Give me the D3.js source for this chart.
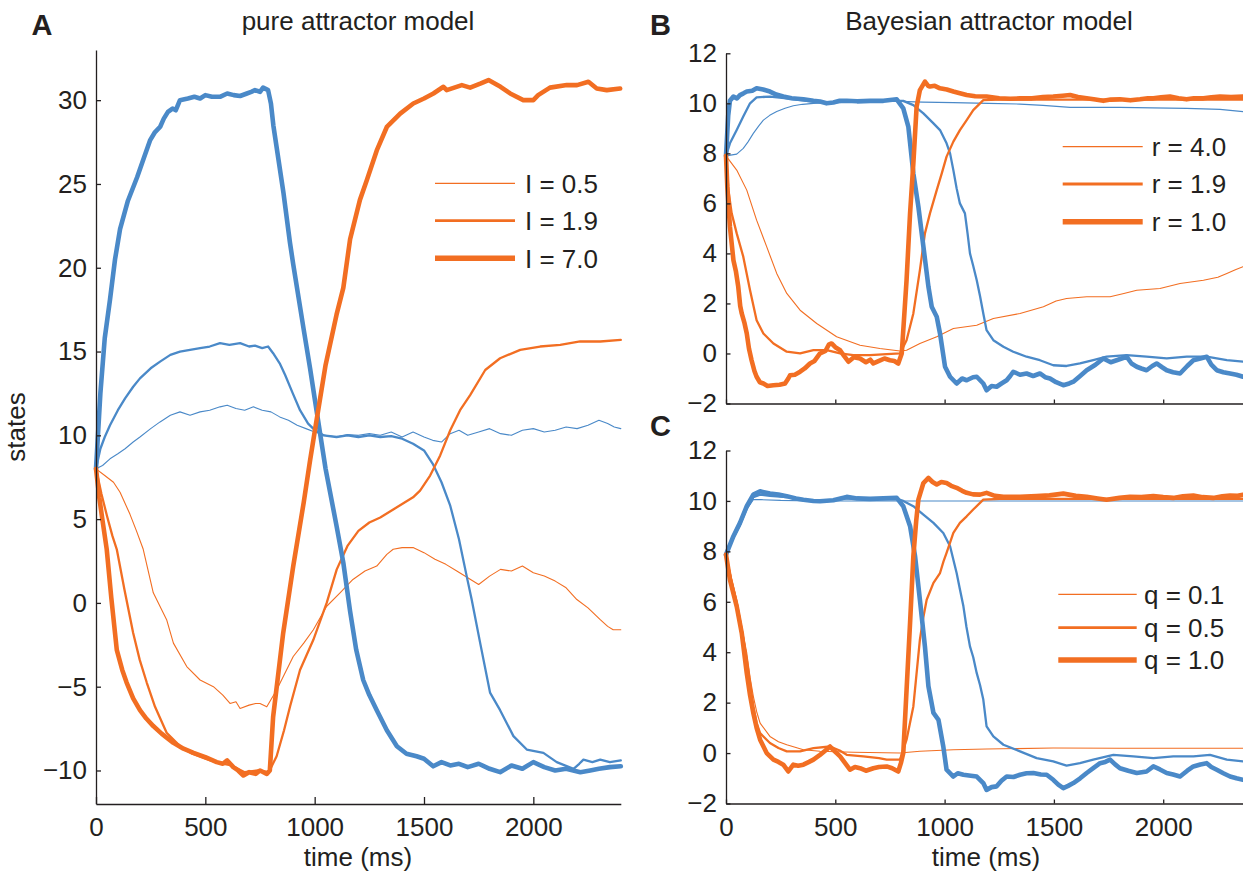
<!DOCTYPE html>
<html><head><meta charset="utf-8">
<script src="https://cdn.jsdelivr.net/npm/d3@7"></script>
<style>
body{margin:0;background:#fff}
text{font-family:"Liberation Sans",Arial,Helvetica,sans-serif;fill:#231f20}
</style>
</head><body>
<svg id="c" width="1243" height="875"></svg>
<script>
// ---------- tick values & labels ----------
const timeTicks = [0, 500, 1000, 1500, 2000];
const yTicksA = [-10, -5, 0, 5, 10, 15, 20, 25, 30];
const yTicksBC = [-2, 0, 2, 4, 6, 8, 10, 12];
const legendA = ["I = 0.5", "I = 1.9", "I = 7.0"];
const legendB = ["r = 4.0", "r = 1.9", "r = 1.0"];
const legendC = ["q = 0.1", "q = 0.5", "q = 1.0"];
const titles = ["pure attractor model", "Bayesian attractor model"];

// ---------- Panel A: pure attractor model  [time ms, state] ----------
const aBlueThin = [[0,8],[30,8.2],[64,8.6],[100,8.9],[133,9.2],[170,9.6],[201,9.9],[250,10.4],[293,10.8],[340,11.2],[384,11.4],[430,11.2],[476,11.4],[520,11.5],[567,11.7],[600,11.8],[640,11.6],[680,11.5],[720,11.7],[760,11.5],[800,11.4],[840,11.1],[880,10.9],[920,10.6],[960,10.4],[1000,10.2],[1050,10.0],[1100,9.9],[1150,10.05],[1200,10.0],[1250,10.1],[1300,10.0],[1350,10.2],[1400,9.9],[1450,10.2],[1500,9.9],[1540,9.7],[1580,9.6],[1620,10.1],[1660,10.3],[1700,10.0],[1750,10.2],[1800,10.4],[1850,10.1],[1900,10.0],[1950,10.3],[2000,10.4],[2050,10.2],[2100,10.3],[2150,10.5],[2200,10.4],[2250,10.6],[2300,10.9],[2340,10.7],[2370,10.5],[2400,10.4]];
const aBlueMed = [[0,8],[20,9.2],[40,9.9],[64,10.6],[100,11.5],[133,12.2],[170,12.9],[201,13.4],[250,14.0],[293,14.4],[340,14.8],[384,15.0],[430,15.1],[476,15.2],[520,15.3],[567,15.5],[610,15.4],[659,15.5],[700,15.3],[727,15.35],[760,15.2],[787,15.3],[810,14.9],[840,14.3],[865,13.6],[900,12.5],[933,11.5],[970,10.7],[1002,10.3],[1040,10.0],[1100,9.9],[1150,10.0],[1200,9.9],[1250,10.0],[1300,9.9],[1350,9.95],[1400,9.8],[1450,9.5],[1500,9.1],[1540,8.3],[1580,7.2],[1620,5.8],[1660,3.8],[1700,1.3],[1718,0.2],[1757,-2.4],[1802,-5.35],[1848,-6.4],[1909,-7.95],[1970,-8.75],[2046,-8.95],[2107,-9.5],[2184,-9.9],[2210,-9.6],[2229,-9.35],[2270,-9.5],[2306,-9.35],[2350,-9.5],[2400,-9.4]];
const aBlueThick = [[0,8],[20,12.5],[40,15.8],[64,18.1],[87,20.5],[110,22.3],[146,24],[188,25.4],[220,26.6],[247,27.6],[270,28.1],[293,28.4],[310,28.9],[329,29.3],[350,29.5],[365,29.4],[384,30.0],[420,30.1],[450,30.2],[476,30.1],[500,30.3],[530,30.2],[567,30.2],[600,30.4],[630,30.3],[659,30.25],[690,30.4],[710,30.5],[727,30.6],[750,30.5],[764,30.75],[787,30.6],[800,29.8],[811,28.5],[857,24.5],[887,21.5],[902,20.2],[950,16.3],[979,14],[1000,12.2],[1050,8.0],[1100,4.6],[1131,2.4],[1162,-0.5],[1190,-2.8],[1222,-4.6],[1250,-5.5],[1284,-6.4],[1330,-7.6],[1376,-8.55],[1420,-9.0],[1466,-9.15],[1500,-9.3],[1542,-9.75],[1580,-9.5],[1620,-9.7],[1660,-9.6],[1700,-9.8],[1750,-9.6],[1800,-9.9],[1848,-10.1],[1900,-9.7],[1950,-9.9],[2000,-9.5],[2050,-9.8],[2100,-10.0],[2150,-9.9],[2215,-10.1],[2260,-10.0],[2300,-9.9],[2350,-9.8],[2400,-9.75]];
const aOrangeThin = [[0,8],[40,7.6],[80,7.2],[110,6.6],[155,5.3],[185,4.3],[216,3.2],[262,0.6],[323,-1.0],[354,-2.4],[415,-3.8],[476,-4.6],[537,-5.0],[580,-5.5],[613,-6.0],[640,-5.9],[659,-6.3],[700,-6.1],[730,-6.0],[750,-6.0],[781,-6.2],[826,-5.2],[860,-4.3],[902,-3.2],[950,-2.4],[994,-1.6],[1055,-0.2],[1116,0.6],[1175,1.4],[1230,1.9],[1284,2.2],[1330,2.9],[1359,3.2],[1400,3.3],[1450,3.3],[1500,3.0],[1550,2.6],[1600,2.3],[1650,1.9],[1700,1.5],[1750,1.1],[1800,1.6],[1850,2.0],[1900,1.9],[1950,2.2],[2000,1.8],[2050,1.6],[2100,1.3],[2150,0.9],[2199,0.2],[2250,-0.3],[2306,-1.0],[2340,-1.4],[2365,-1.6],[2400,-1.6]];
const aOrangeMed = [[0,8],[25,6.5],[50,5.2],[75,4.0],[95,3.2],[130,0.8],[170,-1.8],[200,-3.4],[232,-4.75],[270,-6.2],[323,-7.75],[384,-8.55],[440,-9.0],[500,-9.3],[560,-9.55],[620,-9.7],[680,-10.1],[740,-10.0],[790,-10.1],[826,-9.15],[860,-7.6],[888,-6.15],[933,-4.0],[994,-2.2],[1055,0],[1101,2.0],[1150,3.4],[1200,4.3],[1250,4.8],[1300,5.1],[1350,5.5],[1400,5.9],[1450,6.3],[1482,6.7],[1528,7.6],[1574,8.8],[1620,10.3],[1665,11.5],[1711,12.4],[1780,13.9],[1848,14.6],[1940,15.1],[2031,15.3],[2123,15.4],[2214,15.6],[2306,15.6],[2400,15.7]];
const aOrangeThick = [[0,8],[15,6.3],[30,4.9],[49,3.2],[70,0.3],[95,-2.8],[120,-4.0],[140,-4.75],[170,-5.7],[201,-6.4],[230,-6.9],[262,-7.35],[300,-7.8],[354,-8.35],[400,-8.7],[446,-8.95],[500,-9.2],[552,-9.5],[580,-9.6],[600,-9.4],[628,-9.8],[650,-10.0],[674,-10.3],[700,-10.1],[730,-10.2],[750,-10.0],[781,-10.2],[795,-10.0],[810,-6.8],[856,-1.8],[902,2.2],[950,6.0],[979,8.5],[1000,10.2],[1050,14.2],[1100,17.2],[1131,18.8],[1162,21.7],[1207,24.05],[1238,25.2],[1284,27.0],[1330,28.4],[1391,29.2],[1451,29.8],[1500,30.1],[1543,30.4],[1589,30.8],[1604,30.6],[1673,30.9],[1711,30.75],[1760,31.0],[1795,31.2],[1850,30.8],[1894,30.4],[1954,30.0],[2000,30.0],[2022,30.3],[2076,30.75],[2153,30.9],[2200,30.9],[2252,31.1],[2290,30.7],[2336,30.6],[2397,30.7]];

// ---------- Panel B: Bayesian attractor model, varying r ----------
const bBlueThin = [[0,7.9],[49,7.97],[79,8.2],[100,8.45],[125,8.8],[150,9.1],[171,9.33],[200,9.52],[232,9.67],[270,9.8],[308,9.9],[350,9.96],[400,10.0],[490,10.04],[582,10.07],[700,10.08],[796,10.08],[900,10.05],[1040,10.03],[1200,10.0],[1345,9.97],[1450,9.92],[1574,9.84],[1700,9.84],[1802,9.84],[1950,9.82],[2107,9.8],[2260,9.76],[2365,9.67]];
const bBlueMed = [[0,7.9],[18,8.4],[49,8.93],[79,9.47],[110,10.0],[140,10.24],[201,10.27],[278,10.2],[369,10.1],[430,10.05],[491,10.03],[552,10.08],[650,10.08],[750,10.1],[811,10.1],[857,9.93],[903,9.6],[949,9.2],[979,8.93],[1009,8.4],[1025,8.0],[1040,7.33],[1055,6.6],[1070,6.0],[1093,5.6],[1105,4.8],[1116,4.0],[1131,3.5],[1147,2.93],[1162,2.3],[1177,1.6],[1192,0.93],[1223,0.53],[1269,0.27],[1314,0.07],[1375,-0.13],[1436,-0.27],[1497,-0.47],[1558,-0.5],[1619,-0.4],[1680,-0.27],[1741,-0.13],[1833,-0.07],[1924,-0.13],[2016,-0.2],[2108,-0.13],[2199,-0.13],[2291,-0.27],[2365,-0.33]];
const bBlueThick = [[0,7.9],[10,9.5],[18,10.1],[34,10.27],[50,10.2],[64,10.33],[80,10.4],[95,10.47],[120,10.5],[140,10.6],[170,10.55],[201,10.47],[230,10.35],[262,10.27],[300,10.2],[354,10.16],[400,10.1],[430,10.07],[460,10.0],[491,10.03],[520,10.1],[552,10.1],[600,10.08],[659,10.1],[720,10.1],[781,10.16],[811,9.8],[834,9.07],[857,7.2],[880,5.87],[903,4.27],[926,2.67],[941,1.87],[964,1.47],[979,0.8],[1002,-0.53],[1025,-0.93],[1055,-1.2],[1080,-1.0],[1101,-1.07],[1130,-0.95],[1147,-0.93],[1177,-1.2],[1192,-1.47],[1215,-1.3],[1238,-1.33],[1260,-1.2],[1284,-1.07],[1300,-0.9],[1314,-0.73],[1345,-0.85],[1375,-0.8],[1405,-0.9],[1436,-0.8],[1460,-0.95],[1482,-1.0],[1510,-1.15],[1543,-1.27],[1570,-1.2],[1589,-1.13],[1620,-0.9],[1650,-0.67],[1690,-0.45],[1726,-0.2],[1760,-0.35],[1787,-0.27],[1810,-0.2],[1833,-0.13],[1855,-0.4],[1879,-0.53],[1900,-0.6],[1924,-0.67],[1950,-0.5],[1970,-0.4],[1995,-0.55],[2016,-0.67],[2045,-0.75],[2077,-0.8],[2110,-0.5],[2138,-0.27],[2170,-0.2],[2199,-0.13],[2220,-0.45],[2245,-0.67],[2275,-0.75],[2306,-0.8],[2335,-0.85],[2365,-0.93]];
const bOrangeThin = [[0,7.9],[49,7.33],[95,6.53],[140,5.33],[186,4.27],[232,3.2],[278,2.4],[339,1.73],[415,1.2],[506,0.67],[613,0.33],[704,0.2],[796,0.1],[826,0.13],[887,0.4],[964,0.67],[1040,1.0],[1147,1.13],[1223,1.4],[1345,1.6],[1452,1.87],[1510,2.1],[1558,2.2],[1650,2.27],[1757,2.27],[1820,2.4],[1879,2.53],[1985,2.6],[2077,2.8],[2184,2.93],[2250,3.05],[2291,3.2],[2330,3.35],[2365,3.47]];
const bOrangeMed = [[0,7.9],[11,6.53],[26,5.6],[49,4.8],[79,3.87],[110,2.53],[140,1.33],[171,0.8],[217,0.4],[278,0.07],[339,0.0],[400,0.13],[461,0.13],[522,0.0],[582,-0.07],[659,-0.07],[735,-0.03],[796,0.0],[826,0.53],[857,1.6],[887,3.33],[910,4.8],[933,5.6],[964,6.53],[987,7.2],[1009,7.87],[1040,8.47],[1070,8.93],[1101,9.33],[1131,9.73],[1177,10.13],[1250,10.15],[1400,10.15],[1600,10.15],[1800,10.15],[2000,10.15],[2200,10.15],[2365,10.15]];
const bOrangeThick = [[0,7.9],[6,6.67],[18,5.07],[34,3.73],[45,3.3],[56,2.67],[65,1.9],[72,1.6],[85,1.2],[95,0.8],[105,0.2],[117,-0.27],[130,-0.7],[140,-0.93],[155,-1.15],[171,-1.2],[190,-1.3],[217,-1.27],[245,-1.25],[270,-1.2],[285,-1.0],[293,-0.87],[315,-0.85],[339,-0.73],[360,-0.6],[384,-0.4],[405,-0.3],[430,0.0],[455,0.1],[470,0.35],[483,0.4],[500,0.25],[522,0.13],[540,-0.1],[560,-0.33],[585,-0.15],[613,-0.2],[640,-0.35],[660,-0.25],[674,-0.4],[700,-0.3],[725,-0.2],[750,-0.27],[770,-0.3],[788,-0.4],[804,0.0],[826,2.93],[842,5.6],[857,7.6],[872,9.87],[887,10.53],[910,10.87],[925,10.7],[933,10.67],[955,10.7],[979,10.6],[1010,10.55],[1040,10.47],[1070,10.4],[1101,10.33],[1140,10.28],[1192,10.27],[1250,10.2],[1300,10.18],[1345,10.2],[1400,10.2],[1450,10.25],[1497,10.27],[1540,10.3],[1574,10.33],[1610,10.25],[1650,10.2],[1690,10.15],[1726,10.1],[1760,10.15],[1802,10.16],[1850,10.12],[1894,10.16],[1930,10.2],[1955,10.2],[1990,10.24],[2031,10.27],[2070,10.2],[2107,10.16],[2140,10.2],[2184,10.2],[2220,10.24],[2260,10.27],[2310,10.25],[2365,10.27]];

// ---------- Panel C: Bayesian attractor model, varying q ----------
const cBlueThin = [[0,7.87],[49,8.86],[95,9.66],[125,10.05],[160,10.05],[250,10.02],[400,10.0],[800,10.0],[1200,10.0],[1800,10.0],[2365,10.0]];
const cBlueMed = [[0,7.87],[34,8.55],[64,9.05],[95,9.7],[125,10.15],[156,10.25],[201,10.2],[278,10.15],[354,10.03],[430,9.98],[491,10.02],[552,10.1],[659,10.06],[781,10.08],[811,10.0],[857,9.79],[903,9.46],[949,9.13],[994,8.73],[1025,8.2],[1055,7.14],[1070,6.5],[1086,5.82],[1100,5.0],[1116,4.23],[1131,3.8],[1147,3.17],[1162,2.7],[1177,2.12],[1192,1.06],[1223,0.66],[1269,0.33],[1345,0.07],[1421,-0.2],[1497,-0.33],[1558,-0.5],[1619,-0.4],[1680,-0.26],[1772,-0.07],[1863,-0.13],[1955,-0.2],[2046,-0.13],[2138,-0.13],[2214,-0.07],[2291,-0.26],[2365,-0.33]];
const cBlueThick = [[0,7.87],[34,8.6],[64,9.13],[95,9.79],[125,10.25],[156,10.38],[201,10.29],[240,10.25],[278,10.19],[320,10.1],[354,10.05],[400,10.0],[430,9.99],[491,10.03],[552,10.16],[600,10.1],[659,10.08],[720,10.1],[781,10.12],[811,9.79],[842,9.0],[865,7.8],[887,6.08],[910,4.23],[926,2.65],[949,1.59],[972,1.32],[994,0.26],[1009,-0.66],[1040,-0.93],[1060,-0.8],[1086,-0.86],[1120,-0.9],[1147,-0.93],[1177,-1.19],[1192,-1.46],[1215,-1.35],[1238,-1.32],[1260,-1.1],[1284,-0.93],[1315,-0.95],[1345,-0.86],[1375,-0.8],[1406,-0.79],[1440,-0.85],[1467,-0.86],[1497,-1.06],[1520,-1.25],[1543,-1.39],[1565,-1.3],[1589,-1.19],[1620,-1.0],[1650,-0.79],[1680,-0.6],[1711,-0.4],[1735,-0.35],[1757,-0.26],[1780,-0.45],[1802,-0.6],[1840,-0.7],[1879,-0.79],[1924,-0.73],[1955,-0.53],[1985,-0.65],[2016,-0.79],[2045,-0.85],[2077,-0.93],[2110,-0.7],[2138,-0.53],[2170,-0.45],[2199,-0.4],[2220,-0.55],[2245,-0.66],[2275,-0.8],[2306,-0.93],[2335,-1.0],[2365,-1.06]];
const cOrangeThin = [[0,7.87],[49,6.08],[72,5.0],[95,3.97],[110,3.0],[125,2.25],[140,1.65],[156,1.19],[201,0.66],[240,0.45],[278,0.33],[354,0.13],[430,0.07],[582,0.03],[796,0.0],[887,0.07],[1040,0.13],[1192,0.16],[1497,0.2],[1800,0.19],[2100,0.19],[2365,0.19]];
const cOrangeMed = [[0,7.87],[25,6.8],[49,5.95],[72,4.9],[95,3.7],[110,2.8],[125,1.85],[140,1.2],[156,0.79],[201,0.4],[240,0.2],[278,0.07],[339,0.07],[400,0.2],[476,0.26],[520,0.1],[552,-0.07],[628,-0.13],[700,-0.2],[735,-0.26],[796,-0.26],[826,0.53],[857,1.85],[870,3.0],[887,4.5],[903,5.4],[918,6.08],[949,6.75],[979,7.14],[995,7.6],[1009,7.94],[1040,8.73],[1070,9.13],[1101,9.39],[1131,9.66],[1177,10.05],[1250,10.08],[1400,10.08],[1600,10.08],[1800,10.08],[2000,10.08],[2200,10.08],[2365,10.08]];
const cOrangeThick = [[0,7.87],[18,6.88],[49,5.82],[72,4.76],[95,3.17],[110,2.3],[125,1.59],[140,1.0],[156,0.53],[186,0.0],[217,-0.26],[240,-0.35],[262,-0.46],[285,-0.73],[308,-0.46],[330,-0.5],[354,-0.46],[380,-0.35],[400,-0.26],[430,-0.07],[455,0.1],[476,0.26],[500,0.05],[522,-0.13],[545,-0.4],[567,-0.66],[590,-0.55],[613,-0.6],[640,-0.7],[674,-0.6],[700,-0.55],[735,-0.53],[760,-0.6],[788,-0.73],[800,-0.4],[811,0.0],[826,2.51],[842,5.16],[857,7.8],[870,9.2],[880,10.05],[903,10.71],[926,10.91],[945,10.75],[964,10.65],[985,10.75],[1009,10.71],[1030,10.6],[1055,10.52],[1080,10.4],[1101,10.32],[1130,10.26],[1162,10.25],[1192,10.32],[1230,10.2],[1269,10.16],[1345,10.16],[1421,10.19],[1480,10.22],[1543,10.29],[1600,10.2],[1650,10.16],[1700,10.1],[1741,10.05],[1800,10.12],[1848,10.16],[1900,10.15],[1955,10.19],[2000,10.15],[2046,10.12],[2090,10.18],[2138,10.21],[2180,10.15],[2229,10.12],[2270,10.18],[2306,10.21],[2340,10.2],[2365,10.24]];

// ---------- styling ----------
const BLUE = "#4a89c8", ORANGE = "#f26e22", INK = "#231f20";
const W = {thin: 1.1, med: 2.3, thick: 4.6};
const LEGW = [1.2, 2.8, 5.4];
const FS = 26;
const fmt = d => d < 0 ? "\u2212" + Math.abs(d) : String(d);

const svg = d3.select("#c");

function panel(cfg) {
  const x = d3.scaleLinear().domain(cfg.xDomain).range(cfg.xRange);
  const y = d3.scaleLinear().domain(cfg.yDomain).range(cfg.yRange);
  const g = svg.append("g");

  const line = d3.line().x(d => x(d[0])).y(d => y(d[1]));
  cfg.series.forEach(s => {
    g.append("path").datum(s.data)
      .attr("fill", "none").attr("stroke", s.color)
      .attr("stroke-width", s.w).attr("stroke-linejoin", "round").attr("stroke-linecap", "round")
      .attr("d", line);
  });

  const ax = g.append("g").attr("transform", `translate(0,${cfg.yRange[0]})`)
    .call(d3.axisBottom(x).tickValues(timeTicks).tickSizeInner(-cfg.xTick).tickSizeOuter(0)
      .tickPadding(14).tickFormat(cfg.xLabels ? d => String(d) : () => ""));
  const ay = g.append("g").attr("transform", `translate(${cfg.xRange[0]},0)`)
    .call(d3.axisLeft(y).tickValues(cfg.yTicks).tickSizeInner(-cfg.yTick).tickSizeOuter(0)
      .tickPadding(9).tickFormat(fmt));
  [ax, ay].forEach(a => {
    a.selectAll("path,line").attr("stroke", INK).attr("stroke-width", 1.3);
    a.selectAll("text").attr("font-size", FS).attr("fill", INK)
      .attr("font-family", "'Liberation Sans', Arial, sans-serif");
  });

  // legend
  const L = cfg.legend;
  L.labels.forEach((lab, i) => {
    const yy = L.y[i];
    g.append("line").attr("x1", L.x1).attr("x2", L.x2).attr("y1", yy).attr("y2", yy)
      .attr("stroke", ORANGE).attr("stroke-width", LEGW[i]);
    g.append("text").attr("x", L.tx).attr("y", yy).attr("dy", "0.36em")
      .attr("font-size", FS).text(lab);
  });
  return {x, y};
}

const seriesOf = (bt, bm, bk, ot, om, ok) => [
  {data: bt, color: BLUE, w: W.thin}, {data: ot, color: ORANGE, w: W.thin},
  {data: bm, color: BLUE, w: W.med}, {data: om, color: ORANGE, w: W.med},
  {data: bk, color: BLUE, w: W.thick}, {data: ok, color: ORANGE, w: W.thick}
];

panel({
  xDomain: [0, 2400], xRange: [96, 620.8],
  yDomain: [-12, 33], yRange: [804, 49.9],
  yTicks: yTicksA, xLabels: true, xTick: 7, yTick: 5,
  series: seriesOf(aBlueThin, aBlueMed, aBlueThick, aOrangeThin, aOrangeMed, aOrangeThick),
  legend: {labels: legendA, x1: 435, x2: 515, tx: 525, y: [183.3, 220.7, 258.3]}
});
panel({
  xDomain: [0, 2365], xRange: [726, 1243],
  yDomain: [-2, 12], yRange: [403.5, 53.3],
  yTicks: yTicksBC, xLabels: false, xTick: 4, yTick: 4.5,
  series: seriesOf(bBlueThin, bBlueMed, bBlueThick, bOrangeThin, bOrangeMed, bOrangeThick),
  legend: {labels: legendB, x1: 1062.7, x2: 1142.7, tx: 1151.7, y: [146.7, 184, 221.7]}
});
panel({
  xDomain: [0, 2365], xRange: [726, 1243],
  yDomain: [-2, 12], yRange: [803.5, 450.5],
  yTicks: yTicksBC, xLabels: true, xTick: 4, yTick: 4.5,
  series: seriesOf(cBlueThin, cBlueMed, cBlueThick, cOrangeThin, cOrangeMed, cOrangeThick),
  legend: {labels: legendC, x1: 1058.3, x2: 1136.7, tx: 1144, y: [594.3, 627.7, 660]}
});

// titles, panel letters, axis labels
svg.append("text").attr("x", 358).attr("y", 30).attr("text-anchor", "middle").attr("font-size", FS).text(titles[0]);
svg.append("text").attr("x", 989).attr("y", 30).attr("text-anchor", "middle").attr("font-size", FS).text(titles[1]);
[["A", 31.5, 35], ["B", 650, 35], ["C", 650, 436]].forEach(([t, x, y]) =>
  svg.append("text").attr("x", x).attr("y", y).attr("font-size", 29).attr("font-weight", "bold").text(t));
svg.append("text").attr("x", 358).attr("y", 866).attr("text-anchor", "middle").attr("font-size", FS).text("time (ms)");
svg.append("text").attr("x", 986).attr("y", 866).attr("text-anchor", "middle").attr("font-size", FS).text("time (ms)");
svg.append("text").attr("transform", "translate(25,427) rotate(-90)").attr("text-anchor", "middle").attr("font-size", FS).text("states");
</script>
</body></html>
